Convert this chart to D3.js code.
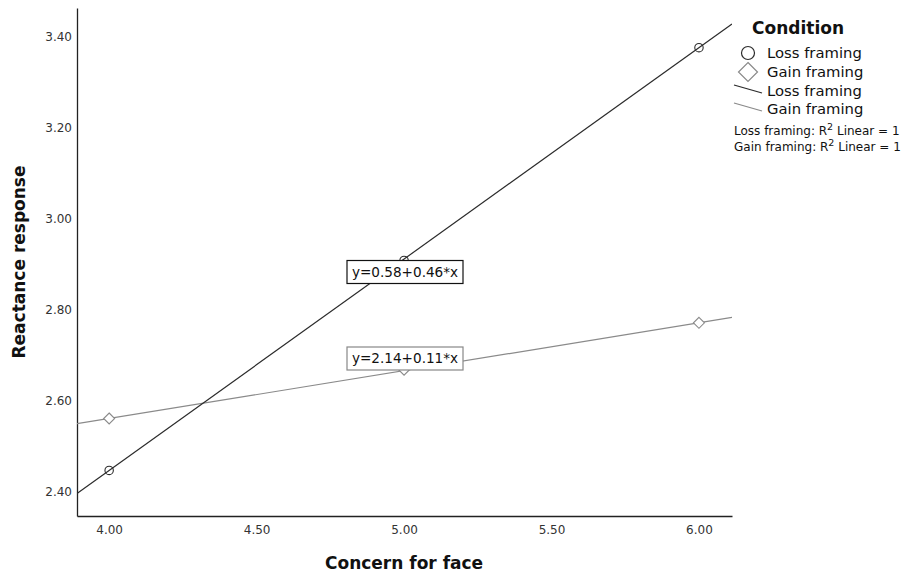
<!DOCTYPE html>
<html>
<head>
<meta charset="utf-8">
<script src="https://cdn.jsdelivr.net/npm/d3@7"></script>
<style>
  body { margin: 0; background: #fff; }
  svg text { font-family: "DejaVu Sans", sans-serif; }
</style>
</head>
<body>
<div id="wrapper"></div>
<script>
// data
const concern = [4, 5, 6];
const lossMeans = [2.447, 2.908, 3.375];
const gainMeans = [2.561, 2.668, 2.771];
const xTicks = [4.0, 4.5, 5.0, 5.5, 6.0];
const yTicks = [2.4, 2.6, 2.8, 3.0, 3.2, 3.4];
const lossFit = { a: 0.591, b: 0.464, label: "y=0.58+0.46*x" };
const gainFit = { a: 2.141, b: 0.105, label: "y=2.14+0.11*x" };
const legendItems = ["Loss framing", "Gain framing", "Loss framing", "Gain framing"];
const r2Labels = ["Loss framing: R", "Gain framing: R"];

const lossColor = "#2b2b2b";
const gainColor = "#8a8a8a";

const dim = {
  width: 905,
  height: 573,
  margin: { top: 8, left: 77, right: 173, bottom: 57 }
};
dim.boundedWidth = dim.width - dim.margin.left - dim.margin.right;
dim.boundedHeight = dim.height - dim.margin.top - dim.margin.bottom;

const svg = d3.select("#wrapper").append("svg")
  .attr("width", dim.width)
  .attr("height", dim.height);

const bounded = svg.append("g")
  .attr("transform", `translate(${dim.margin.left},${dim.margin.top})`);

const xScaler = d3.scaleLinear()
  .domain([3.891, 6.112])
  .range([0, dim.boundedWidth]);

const yScaler = d3.scaleLinear()
  .domain([2.347, 3.462])
  .range([dim.boundedHeight, 0]);

// axes, SPSS style: no tick marks
const xAxis = bounded.append("g")
  .attr("transform", `translate(0,${dim.boundedHeight})`)
  .call(d3.axisBottom(xScaler).tickValues(xTicks).tickFormat(d3.format(".2f")).tickSize(0).tickPadding(9));
const yAxis = bounded.append("g")
  .call(d3.axisLeft(yScaler).tickValues(yTicks).tickFormat(d3.format(".2f")).tickSize(0).tickPadding(5));

[xAxis, yAxis].forEach(ax => {
  ax.select(".domain").attr("stroke", "#222").attr("stroke-width", 1.3);
  ax.selectAll("text").attr("font-size", 12).attr("fill", "#333")
    .attr("font-family", "'DejaVu Sans', sans-serif");
});

// clip lines to the plot area
svg.append("clipPath").attr("id", "plot")
  .append("rect").attr("width", dim.boundedWidth).attr("height", dim.boundedHeight);

const fitLine = (fit) => {
  const xs = xScaler.domain();
  return d3.line()
    .x(d => xScaler(d))
    .y(d => yScaler(fit.a + fit.b * d))(xs);
};

bounded.append("path")
  .attr("clip-path", "url(#plot)")
  .attr("fill", "none")
  .attr("stroke", gainColor)
  .attr("stroke-width", 1.2)
  .attr("d", fitLine(gainFit));

bounded.append("path")
  .attr("clip-path", "url(#plot)")
  .attr("fill", "none")
  .attr("stroke", lossColor)
  .attr("stroke-width", 1.2)
  .attr("d", fitLine(lossFit));

// points
bounded.selectAll(".loss")
  .data(concern)
  .join("circle")
  .attr("cx", d => xScaler(d))
  .attr("cy", (d, i) => yScaler(lossMeans[i]))
  .attr("r", 4.2)
  .attr("fill", "none")
  .attr("stroke", lossColor)
  .attr("stroke-width", 1.1);

const diamondPath = (h) => `M0,${-h}L${h},0L0,${h}L${-h},0Z`;
bounded.selectAll(".gain")
  .data(concern)
  .join("path")
  .attr("transform", (d, i) => `translate(${xScaler(d)},${yScaler(gainMeans[i])})`)
  .attr("d", diamondPath(5.5))
  .attr("fill", "#fff")
  .attr("stroke", gainColor)
  .attr("stroke-width", 1.1);

// equation labels
function eqLabel(fit, cx, cy, color) {
  const g = bounded.append("g").attr("transform", `translate(${cx},${cy})`);
  g.append("rect")
    .attr("x", -58).attr("y", -11.5)
    .attr("width", 116).attr("height", 23)
    .attr("fill", "#fff")
    .attr("stroke", color)
    .attr("stroke-width", 1.2);
  g.append("text")
    .attr("text-anchor", "middle")
    .attr("dy", "0.36em")
    .attr("font-size", 13.6)
    .attr("fill", "#111")
    .text(fit.label);
}
eqLabel(lossFit, 405 - dim.margin.left, 272 - dim.margin.top, "#111");
eqLabel(gainFit, 405 - dim.margin.left, 358.5 - dim.margin.top, "#888");

// axis titles
svg.append("text")
  .attr("x", dim.margin.left + xScaler(5))
  .attr("y", 569)
  .attr("text-anchor", "middle")
  .attr("font-size", 17)
  .attr("font-weight", "bold")
  .attr("fill", "#111")
  .text("Concern for face");

svg.append("text")
  .attr("transform", `translate(25,${dim.margin.top + dim.boundedHeight / 2}) rotate(-90)`)
  .attr("text-anchor", "middle")
  .attr("font-size", 17)
  .attr("font-weight", "bold")
  .attr("fill", "#111")
  .text("Reactance response");

// legend
const legend = svg.append("g").attr("transform", "translate(734,0)");
legend.append("text")
  .attr("x", 18).attr("y", 34)
  .attr("font-size", 17)
  .attr("font-weight", "bold")
  .attr("fill", "#111")
  .text("Condition");

const rows = [53, 72, 91, 109];
legendItems.forEach((label, i) => {
  legend.append("text")
    .attr("x", 33).attr("y", rows[i] + 5)
    .attr("font-size", 14.8)
    .attr("fill", "#111")
    .text(label);
});
legend.append("circle")
  .attr("cx", 14).attr("cy", rows[0]).attr("r", 6.5)
  .attr("fill", "none").attr("stroke", lossColor).attr("stroke-width", 1.2);
legend.append("path")
  .attr("transform", `translate(14,${rows[1]})`)
  .attr("d", diamondPath(9.5))
  .attr("fill", "none").attr("stroke", gainColor).attr("stroke-width", 1.2);
legend.append("line")
  .attr("x1", 0).attr("y1", rows[2] - 6).attr("x2", 28).attr("y2", rows[2] + 2)
  .attr("stroke", lossColor).attr("stroke-width", 1.3);
legend.append("line")
  .attr("x1", 0).attr("y1", rows[3] - 6).attr("x2", 28).attr("y2", rows[3] + 2)
  .attr("stroke", gainColor).attr("stroke-width", 1.3);

r2Labels.forEach((label, i) => {
  const t = legend.append("text")
    .attr("x", 0).attr("y", 135 + i * 16)
    .attr("font-size", 12)
    .attr("fill", "#111");
  t.append("tspan").text(label);
  t.append("tspan").attr("dy", -5).attr("font-size", 9.5).text("2");
  t.append("tspan").attr("dy", 5).text(" Linear = 1");
});
</script>
</body>
</html>
